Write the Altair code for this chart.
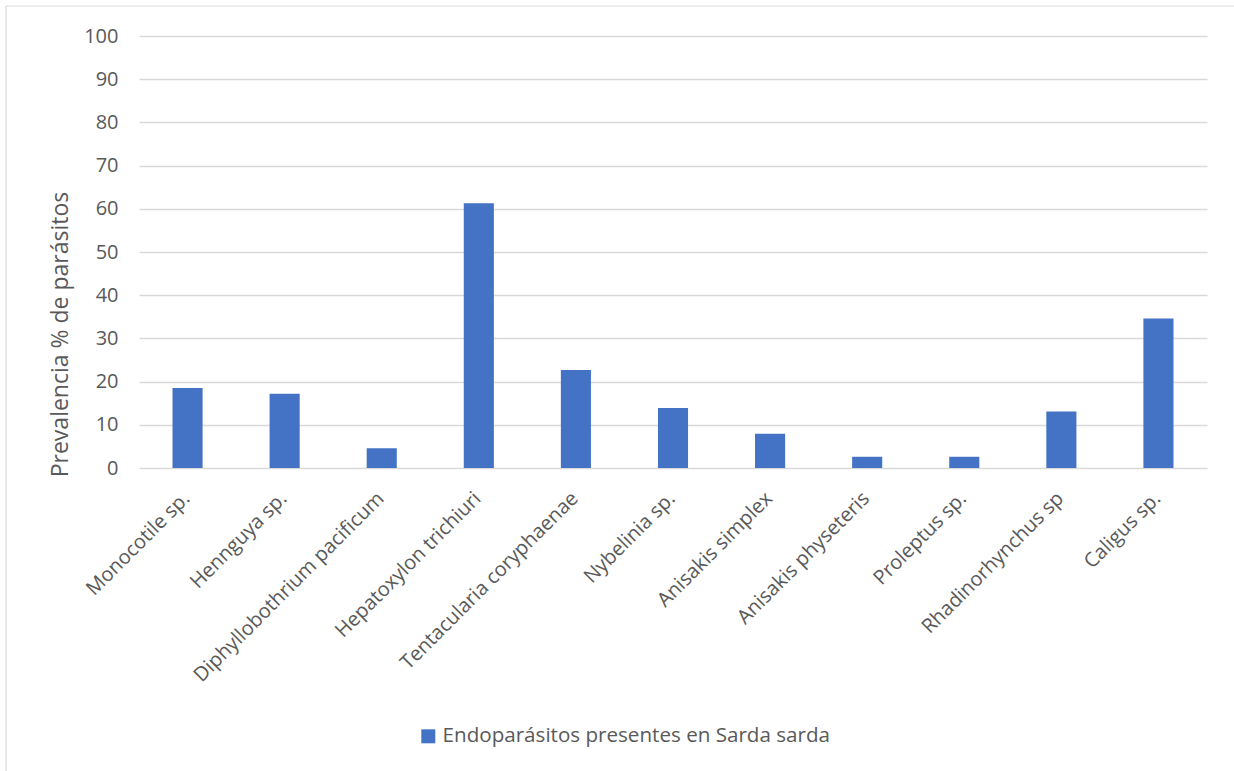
import altair as alt
import pandas as pd

categories = ["Monocotile sp.", "Hennguya sp.", "Diphyllobothrium pacificum",
              "Hepatoxylon trichiuri", "Tentacularia coryphaenae", "Nybelinia sp.",
              "Anisakis simplex", "Anisakis physeteris", "Proleptus sp.",
              "Rhadinorhynchus sp", "Caligus sp."]
values = [18.5, 17.2, 4.6, 61.3, 22.7, 13.9, 7.9, 2.6, 2.6, 13.1, 34.6]
series = "Endoparásitos presentes en Sarda sarda"

df = pd.DataFrame({"cat": categories, "val": values, "serie": [series] * len(values)})
one = pd.DataFrame({"k": [0]})

FONT = "Open Sans"
TXT = "#595959"

bars = alt.Chart(df).mark_bar(color="#4472C4").encode(
    x=alt.X("cat:N", sort=categories, title=None,
            scale=alt.Scale(paddingInner=0.69, paddingOuter=0.345),
            axis=alt.Axis(labelAngle=-45, labelFontSize=20, labelColor=TXT, labelFont=FONT,
                          ticks=False, domain=False, labelPadding=20, labelLimit=400,
                          labelOffset=-8)),
    y=alt.Y("val:Q", title="Prevalencia % de parásitos",
            scale=alt.Scale(domain=[0, 100]),
            axis=alt.Axis(values=list(range(0, 101, 10)), labelFontSize=20, labelColor=TXT,
                          labelFont=FONT, ticks=False, domain=False, labelPadding=21,
                          gridColor="#D9D9D9", gridWidth=1.3,
                          titleFontSize=23, titleFont=FONT, titleColor=TXT,
                          titleFontWeight="normal", titleX=-67, titleY=298, titleAngle=-90)),
    color=alt.Color("serie:N", scale=alt.Scale(range=["#4472C4"]),
                    legend=alt.Legend(title=None, orient="none", legendX=279, legendY=690,
                                      symbolType="square", symbolSize=196,
                                      symbolStrokeWidth=0, labelFontSize=20.6,
                                      labelColor=TXT, labelFont=FONT, labelLimit=600,
                                      labelOffset=4)),
)

border_v = alt.Chart(one).mark_rule(color="#D9D9D9", strokeWidth=1.2).encode(
    x=alt.value(-133), y=alt.value(-30), y2=alt.value(740))
border_h = alt.Chart(one).mark_rule(color="#D9D9D9", strokeWidth=1.2).encode(
    x=alt.value(-133), x2=alt.value(1100), y=alt.value(-30))

chart = alt.layer(bars, border_v, border_h).properties(
    width=1068, height=432,
    autosize=alt.AutoSizeParams(type="none"),
    padding={"left": 139, "top": 36, "right": 27, "bottom": 303},
).configure(background="white").configure_view(stroke=None)

chart.save("out.html", embed_options={"renderer": "svg", "actions": False})
